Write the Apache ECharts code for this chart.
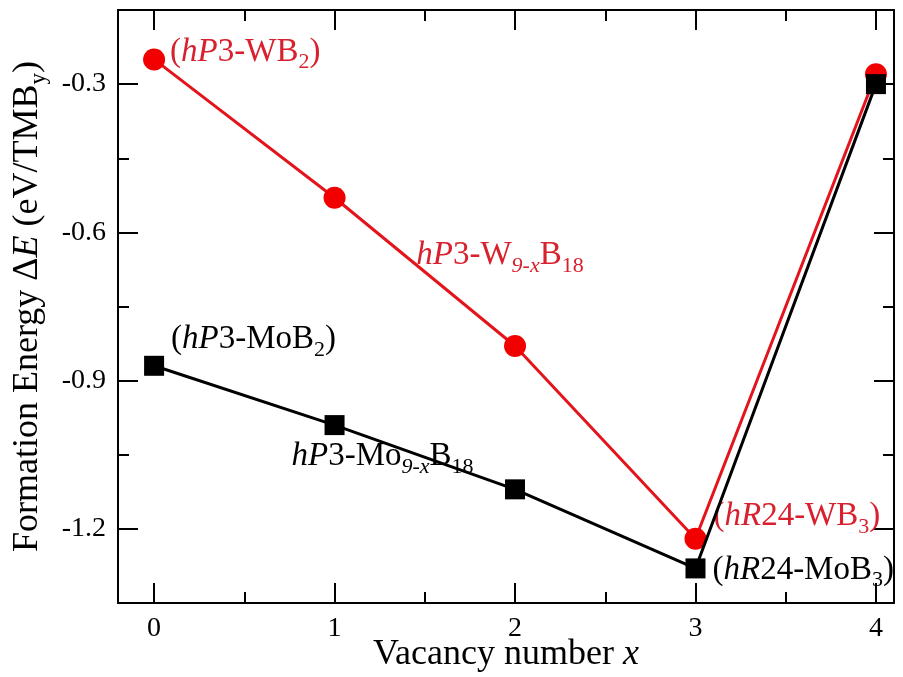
<!DOCTYPE html>
<html>
<head>
<meta charset="utf-8">
<script src="https://cdn.jsdelivr.net/npm/echarts@6/dist/echarts.min.js"></script>
<style>
  html, body { margin: 0; padding: 0; background: #fff; }
  #chart { width: 903px; height: 677px; }
</style>
</head>
<body>
<div id="chart"></div>
<script>
// Vacancy number x for each structure
const vacancies = [0, 1, 2, 3, 4];
// Formation energy (eV/TMB_y) for the W–B and Mo–B series
const energyW = [-0.25, -0.53, -0.83, -1.22, -0.28];
const energyMo = [-0.87, -0.99, -1.12, -1.28, -0.30];

const xMajorTicks = [0, 1, 2, 3, 4];
const xMinorTicks = [0.5, 1.5, 2.5, 3.5];
const yMajorTicks = [-1.2, -0.9, -0.6, -0.3];
const yMinorTicks = [-1.35, -1.05, -0.75, -0.45, -0.15];

const FONT = '"Liberation Serif", "Times New Roman", serif';
const RED = '#e3141c';
const RED_TEXT = '#d8202e';

// rich-text styles for chemical labels (italic prefix, subscripts)
function richStyles(color) {
  return {
    n: { fontFamily: FONT, fontSize: 33, color: color, lineHeight: 38, verticalAlign: 'top' },
    i: { fontFamily: FONT, fontSize: 33, fontStyle: 'italic', color: color, lineHeight: 38, verticalAlign: 'top' },
    s: { fontFamily: FONT, fontSize: 22, color: color, lineHeight: 20, padding: [26, 0, 0, 0], verticalAlign: 'bottom' },
    si: { fontFamily: FONT, fontSize: 22, fontStyle: 'italic', color: color, lineHeight: 20, padding: [26, 0, 0, 0], verticalAlign: 'bottom' }
  };
}

function axisPair(pos, min, max, major, minor, withLabels) {
  const base = {
    type: 'value', min: min, max: max, position: pos,
    splitLine: { show: false },
    axisLine: { show: true, onZero: false, lineStyle: { color: '#000', width: 2 } }
  };
  const majorAxis = Object.assign({}, base, {
    axisTick: { show: true, inside: true, length: 20, customValues: major, lineStyle: { color: '#000', width: 2 } },
    axisLabel: withLabels ? {
      show: true, customValues: major, margin: 12, color: '#000',
      fontFamily: FONT, fontSize: 28
    } : { show: false }
  });
  const minorAxis = Object.assign({}, base, {
    axisLine: { show: false, onZero: false },
    axisTick: { show: true, inside: true, length: 11, customValues: minor, lineStyle: { color: '#000', width: 2 } },
    axisLabel: { show: false }
  });
  return [majorAxis, minorAxis];
}

const xAxes = axisPair('bottom', -0.2, 4.1, xMajorTicks, xMinorTicks, true)
  .concat(axisPair('top', -0.2, 4.1, xMajorTicks, xMinorTicks, false));
xAxes[0].name = '{n|Vacancy number }{i|x}';
xAxes[0].nameLocation = 'middle';
xAxes[0].nameGap = 34;
xAxes[0].nameMoveOverlap = false;
xAxes[0].nameTextStyle = {
  rich: {
    n: { fontFamily: FONT, fontSize: 36, color: '#000' },
    i: { fontFamily: FONT, fontSize: 36, fontStyle: 'italic', color: '#000' }
  }
};

const yAxes = axisPair('left', -1.35, -0.15, yMajorTicks, yMinorTicks, true)
  .concat(axisPair('right', -1.35, -0.15, yMajorTicks, yMinorTicks, false));
yAxes[0].name = '{n|Formation Energy Δ}{i|E}{n| (eV/TMB}{s|y}{n|)}';
yAxes[0].nameLocation = 'middle';
yAxes[0].nameGap = 68;
yAxes[0].nameMoveOverlap = false;
yAxes[0].nameTextStyle = {
  rich: {
    n: { fontFamily: FONT, fontSize: 36, color: '#000', lineHeight: 40, verticalAlign: 'top' },
    i: { fontFamily: FONT, fontSize: 36, fontStyle: 'italic', color: '#000', lineHeight: 40, verticalAlign: 'top' },
    s: { fontFamily: FONT, fontSize: 23, color: '#000', lineHeight: 20, padding: [28, 0, 0, 0], verticalAlign: 'bottom' }
  }
};

function labelled(xs, ys, labels) {
  return xs.map((x, k) => {
    const item = { value: [x, ys[k]] };
    if (labels[k]) item.label = labels[k];
    return item;
  });
}

const redLabels = [
  { show: true, position: 'right', distance: 5, offset: [0, -5],
    formatter: '{n|(}{i|hP}{n|3-WB}{s|2}{n|)}', rich: richStyles(RED_TEXT) },
  null,
  { show: true, position: 'inside', offset: [-15, -88],
    formatter: '{i|hP}{n|3-W}{si|9-x}{n|B}{s|18}', rich: richStyles(RED_TEXT) },
  { show: true, position: 'right', distance: 7, offset: [0, -20],
    formatter: '{n|(}{i|hR}{n|24-WB}{s|3}{n|)}', rich: richStyles(RED_TEXT) },
  null
];
const blackLabels = [
  { show: true, position: 'right', distance: 7, offset: [0, -24],
    formatter: '{n|(}{i|hP}{n|3-MoB}{s|2}{n|)}', rich: richStyles('#000') },
  { show: true, position: 'inside', offset: [48, 34],
    formatter: '{i|hP}{n|3-Mo}{si|9-x}{n|B}{s|18}', rich: richStyles('#000') },
  null,
  { show: true, position: 'right', distance: 7, offset: [0, 4],
    formatter: '{n|(}{i|hR}{n|24-MoB}{s|3}{n|)}', rich: richStyles('#000') },
  null
];

const chart = echarts.init(document.getElementById('chart'));
chart.setOption({
  backgroundColor: '#fff',
  animation: false,
  grid: { left: 118, right: 9, top: 10, bottom: 74, containLabel: false, outerBoundsMode: 'none' },
  xAxis: xAxes,
  yAxis: yAxes,
  series: [
    {
      name: 'W', type: 'line', xAxisIndex: 0, yAxisIndex: 0,
      data: labelled(vacancies, energyW, redLabels),
      symbol: 'circle', symbolSize: 22,
      itemStyle: { color: '#f20000' },
      lineStyle: { color: RED, width: 3 },
      label: { show: false },
      z: 2
    },
    {
      name: 'Mo', type: 'line', xAxisIndex: 0, yAxisIndex: 0,
      data: labelled(vacancies, energyMo, blackLabels),
      symbol: 'rect', symbolSize: 20,
      itemStyle: { color: '#000' },
      lineStyle: { color: '#000', width: 3 },
      label: { show: false },
      z: 3
    }
  ]
});
</script>
</body>
</html>
